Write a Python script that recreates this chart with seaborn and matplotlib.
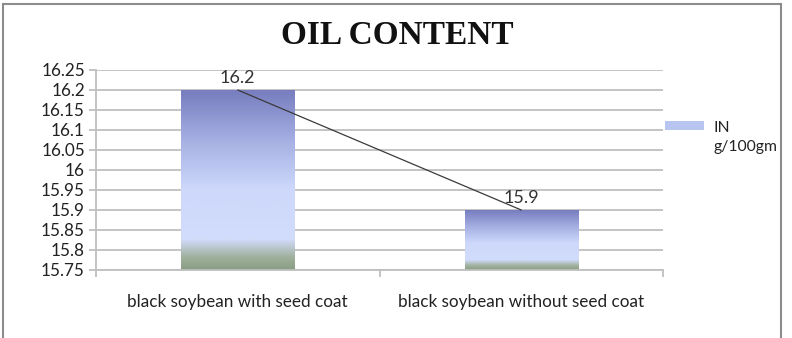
import numpy as np
import pandas as pd
import matplotlib
matplotlib.use("Agg")
import matplotlib.pyplot as plt
import seaborn as sns
from matplotlib.colors import LinearSegmentedColormap
from matplotlib.patches import Rectangle, Patch
from matplotlib.legend_handler import HandlerPatch
from matplotlib.ticker import FixedLocator, FuncFormatter

# Data
categories = ["black soybean with seed coat", "black soybean without seed coat"]
oil_content = [16.2, 15.9]
series_name = "IN\ng/100gm"
title = "OIL CONTENT"

data = pd.DataFrame({"sample": categories, "oil": oil_content})

sns.set_theme(style="white")
plt.rcParams["font.family"] = ["Lato", "DejaVu Sans"]

fig = plt.figure(figsize=(7.92, 3.38), dpi=100)
ax = fig.add_axes([96 / 792, 1 - 270 / 338, (663 - 96) / 792, 200 / 338])

# Bars (drawn by seaborn, then filled with an Excel-like gradient)
sns.barplot(data=data, x="sample", y="oil", width=0.4, color="#b8c4f0",
            ax=ax, zorder=2)

ymin, ymax = 15.75, 16.25
ax.set_ylim(ymin, ymax)
ax.set_xlim(-0.5, 1.5)

grad = LinearSegmentedColormap.from_list("bar_grad", [
    (0.0, "#8a9d84"),
    (0.07, "#9fb09c"),
    (0.17, "#d2dcfb"),
    (0.45, "#cdd8fb"),
    (0.72, "#a6b0e3"),
    (1.0, "#777dbf"),
])
for patch in ax.patches:
    x0 = patch.get_x()
    x1 = x0 + patch.get_width()
    top = patch.get_y() + patch.get_height()
    patch.set_facecolor("none")
    patch.set_edgecolor("none")
    img = ax.imshow(np.linspace(0, 1, 256).reshape(-1, 1), cmap=grad,
                    origin="lower", aspect="auto",
                    extent=[x0, x1, ymin, top], zorder=2.5)
    img.set_clip_path(patch)
ax.set_xlim(-0.5, 1.5)
ax.set_ylim(ymin, ymax)

# Line joining the bar tops
sns.lineplot(x=range(len(categories)), y=oil_content, color="#3a3a3a",
             linewidth=0.9, ax=ax, zorder=3)

# Value labels
for i, v in enumerate(oil_content):
    ax.annotate(f"{v:g}", (i, v), xytext=(0, 3), textcoords="offset points",
                ha="center", va="bottom", fontsize=13, color="#333333",
                zorder=4)

# Axes styling
grid_c = "#bfbfbf"
ax.yaxis.set_major_locator(FixedLocator(np.arange(15.75, 16.2501, 0.05)))
ax.yaxis.set_major_formatter(FuncFormatter(lambda v, p: f"{round(v, 2):g}"))
ax.grid(axis="y", color=grid_c, linewidth=1.3, zorder=0)
ax.set_axisbelow(True)
for side in ["top", "right"]:
    ax.spines[side].set_visible(False)
for side in ["left", "bottom"]:
    ax.spines[side].set_color(grid_c)
    ax.spines[side].set_linewidth(1.3)
ax.tick_params(axis="y", which="major", left=True, length=5, width=1.3,
               color=grid_c, pad=3, labelsize=12.3, labelcolor="#222222")
ax.tick_params(axis="x", which="major", bottom=False, pad=11,
               labelsize=12.3, labelcolor="#222222")
ax.xaxis.set_minor_locator(FixedLocator([-0.5, 0.5, 1.5]))
ax.tick_params(axis="x", which="minor", bottom=True, length=5, width=1.3,
               color=grid_c)
ax.set_xlabel("")
ax.set_ylabel("")
if ax.get_legend() is not None:
    ax.get_legend().remove()

# Title
fig.text(397 / 792, 1 - 35 / 338, title, ha="center", va="center",
         fontsize=24, fontweight="bold", family="Liberation Serif",
         color="#111111")


# Legend: the swatch sits beside the first line of the two-line label
def first_line_patch(legend, orig_handle, xdescent, ydescent, width,
                     height, fontsize):
    return Rectangle((-xdescent, -ydescent + 0.75 * fontsize), width, height)


handle = Patch(facecolor="#b9c5f1", edgecolor="none")
leg = fig.legend([handle], [series_name], loc="upper left",
                 bbox_to_anchor=(665 / 792, 1 - 121 / 338), frameon=False,
                 fontsize=11.3, handlelength=2.5, handleheight=0.45,
                 handletextpad=0.6, borderpad=0, borderaxespad=0,
                 handler_map={Patch: HandlerPatch(patch_func=first_line_patch)})
for t in leg.get_texts():
    t.set_color("#222222")
    t.set_linespacing(1.45)

# Outer chart border
fig.patches.append(Rectangle((3 / 792, -0.05), 778 / 792, 1.05 - 4 / 338,
                             transform=fig.transFigure, fill=False,
                             edgecolor="#8c8c8c", linewidth=1.5))

fig.savefig("out.png", dpi=100)
plt.close(fig)
